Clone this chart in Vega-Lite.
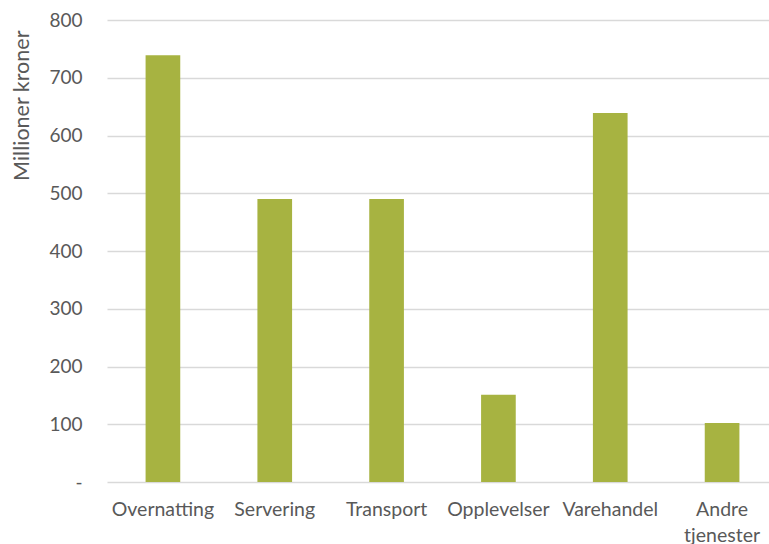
{
  "$schema": "https://vega.github.io/schema/vega-lite/v6.json",
  "autosize": "none",
  "width": 671,
  "height": 462,
  "padding": {"left": 107, "top": 20, "right": 0, "bottom": 62},
  "background": "white",
  "data": {"values": [
    {"kategori": "Overnatting", "verdi": 739},
    {"kategori": "Servering", "verdi": 490},
    {"kategori": "Transport", "verdi": 490},
    {"kategori": "Opplevelser", "verdi": 151},
    {"kategori": "Varehandel", "verdi": 639},
    {"kategori": "Andre tjenester", "verdi": 102}
  ]},
  "config": {
    "view": {"stroke": null},
    "font": "Lato",
    "axis": {"labelFont": "Lato", "titleFont": "Lato", "labelColor": "#595959", "titleColor": "#595959"}
  },
  "mark": {"type": "bar", "color": "#A7B341"},
  "encoding": {
    "x": {
      "field": "kategori", "type": "nominal", "sort": null,
      "scale": {"paddingInner": 0.69, "paddingOuter": 0.345},
      "axis": {
        "title": null, "labelAngle": 0, "ticks": false, "domain": false,
        "labelFontSize": 19.5, "labelPadding": 18, "labelLineHeight": 26,
        "labelExpr": "datum.label == 'Andre tjenester' ? ['Andre', 'tjenester'] : datum.label"
      }
    },
    "y": {
      "field": "verdi", "type": "quantitative",
      "scale": {"domain": [0, 800]},
      "axis": {
        "title": "Millioner kroner", "titleFontSize": 21.5, "titleFontWeight": "normal",
        "titleAnchor": "end", "titlePadding": 15, "titleY": 10,
        "values": [0, 100, 200, 300, 400, 500, 600, 700, 800],
        "labelExpr": "datum.value == 0 ? '-' : datum.label",
        "labelFontSize": 19, "labelPadding": 25, "ticks": false, "domain": false,
        "grid": true, "gridColor": "#D9D9D9", "gridWidth": 1.5
      }
    }
  }
}
